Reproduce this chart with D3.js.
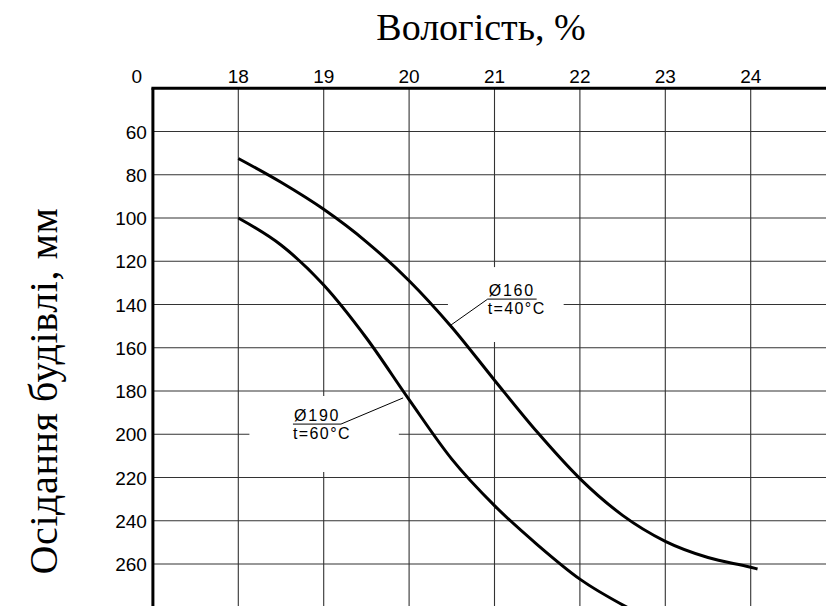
<!DOCTYPE html>
<html>
<head>
<meta charset="utf-8">
<script src="https://cdn.jsdelivr.net/npm/d3@7"></script>
<style>
  html, body { margin: 0; padding: 0; background: #fff; }
  svg { display: block; }
</style>
</head>
<body>
<svg id="chart" width="826" height="606"></svg>
<script>
// ---- data ----
const xTicks = [18, 19, 20, 21, 22, 23, 24];
const yTicks = [60, 80, 100, 120, 140, 160, 180, 200, 220, 240, 260];
const xOriginLabel = "0";

// curve Ø160, t=40°C
const curve160X = [18, 18.5, 19, 19.5, 20, 20.5, 21, 21.5, 22, 22.5, 23, 23.5, 24, 24.08];
const curve160Y = [72.5, 83.5, 96, 111, 129, 150.5, 175, 199, 220.5, 237.5, 249.5, 257, 261.5, 262.3];

// curve Ø190, t=60°C
const curve190X = [18, 18.5, 19, 19.5, 20, 20.5, 21, 21.5, 22, 22.6];
const curve190Y = [100, 112.5, 131, 155.5, 184, 211.5, 233, 251, 267, 281];

const label160 = ["Ø160", "t=40°C"];
const label190 = ["Ø190", "t=60°C"];

const xTitle = "Вологість, %";
const yTitle = "Осідання будівлі, мм";

// ---- layout ----
const svg = d3.select("#chart");
const W = 826, H = 606;
const x = d3.scaleLinear().domain([17, 18]).range([152.9, 238.3]);
const y = d3.scaleLinear().domain([40, 100]).range([88.25, 218]);

const xMax = x.invert(W), yMax = y.invert(H);

const gridColor = "#333";

// grid lines with gaps (gaps in data units)
const hGaps = { 200: [18.13, 19.88], 140: [20.455, 21.81] };
const vGaps = { 19: [182.3, 217.5], 21: [122.7, 157.3] };

const grid = svg.append("g").attr("stroke", gridColor).attr("stroke-width", 1.1);
yTicks.forEach(v => {
  const segs = hGaps[v] ? [[17, hGaps[v][0]], [hGaps[v][1], xMax]] : [[17, xMax]];
  segs.forEach(s => grid.append("line")
    .attr("x1", x(s[0])).attr("x2", x(s[1])).attr("y1", y(v)).attr("y2", y(v)));
});
xTicks.forEach(v => {
  const segs = vGaps[v] ? [[40, vGaps[v][0]], [vGaps[v][1], yMax]] : [[40, yMax]];
  segs.forEach(s => grid.append("line")
    .attr("x1", x(v)).attr("x2", x(v)).attr("y1", y(s[0])).attr("y2", y(s[1])));
});

// axes (thick)
svg.append("line").attr("x1", x(17) - 1.5).attr("x2", W).attr("y1", y(40)).attr("y2", y(40))
  .attr("stroke", "#000").attr("stroke-width", 3);
svg.append("line").attr("x1", x(17)).attr("x2", x(17)).attr("y1", y(40)).attr("y2", H)
  .attr("stroke", "#000").attr("stroke-width", 3);

// tick labels
const tickFont = "'Liberation Sans', Arial, sans-serif";
svg.append("g").selectAll("text").data(xTicks).join("text")
  .attr("x", d => x(d)).attr("y", 82.5)
  .attr("text-anchor", "middle").attr("font-family", tickFont).attr("font-size", 19)
  .text(d => d);
svg.append("text").attr("x", x(17) - 16).attr("y", 82.5)
  .attr("text-anchor", "middle").attr("font-family", tickFont).attr("font-size", 19)
  .text(xOriginLabel);
svg.append("g").selectAll("text").data(yTicks).join("text")
  .attr("x", x(17) - 6).attr("y", d => y(d) + 7)
  .attr("text-anchor", "end").attr("font-family", tickFont).attr("font-size", 19)
  .text(d => d);

// curves
const line = d3.line().curve(d3.curveMonotoneX)
  .x(d => x(d[0])).y(d => y(d[1]));
svg.append("clipPath").attr("id", "clip").append("rect")
  .attr("x", x(17)).attr("y", y(40)).attr("width", W - x(17)).attr("height", H - y(40));
const curves = svg.append("g").attr("clip-path", "url(#clip)");
curves.append("path").attr("d", line(curve160X.map((v, i) => [v, curve160Y[i]])))
  .attr("fill", "none").attr("stroke", "#000").attr("stroke-width", 3);
curves.append("path").attr("d", line(curve190X.map((v, i) => [v, curve190Y[i]])))
  .attr("fill", "none").attr("stroke", "#000").attr("stroke-width", 3);

// annotations
function annotate(lbl, tx, uy, uw, ex, ey, fromRight) {
  const g = svg.append("g");
  const px = x(tx), py = y(uy);
  g.append("text").attr("x", px + 1).attr("y", py - 3)
    .attr("font-family", tickFont).attr("font-size", 16).attr("letter-spacing", 1.8)
    .text(lbl[0]);
  g.append("text").attr("x", px).attr("y", py + 15)
    .attr("font-family", tickFont).attr("font-size", 16).attr("letter-spacing", 1.4)
    .text(lbl[1]);
  g.append("line").attr("x1", px).attr("x2", px + uw).attr("y1", py).attr("y2", py)
    .attr("stroke", "#000").attr("stroke-width", 1);
  const sx = fromRight ? px + uw : px;
  g.append("line").attr("x1", sx).attr("y1", py).attr("x2", x(ex)).attr("y2", y(ey))
    .attr("stroke", "#000").attr("stroke-width", 1);
}
annotate(label160, 20.92, 137.5, 49, 20.49, 149.5, false);
annotate(label190, 18.64, 195.3, 48, 19.93, 183.2, true);

// titles
const serif = "'Liberation Serif', 'Times New Roman', serif";
svg.append("text").attr("x", 481).attr("y", 40).attr("text-anchor", "middle")
  .attr("font-family", serif).attr("font-size", 38)
  .text(xTitle);
svg.append("text").attr("transform", "translate(57,391) rotate(-90)").attr("text-anchor", "middle")
  .attr("font-family", serif).attr("font-size", 40).attr("letter-spacing", 0.6)
  .text(yTitle);
</script>
</body>
</html>
